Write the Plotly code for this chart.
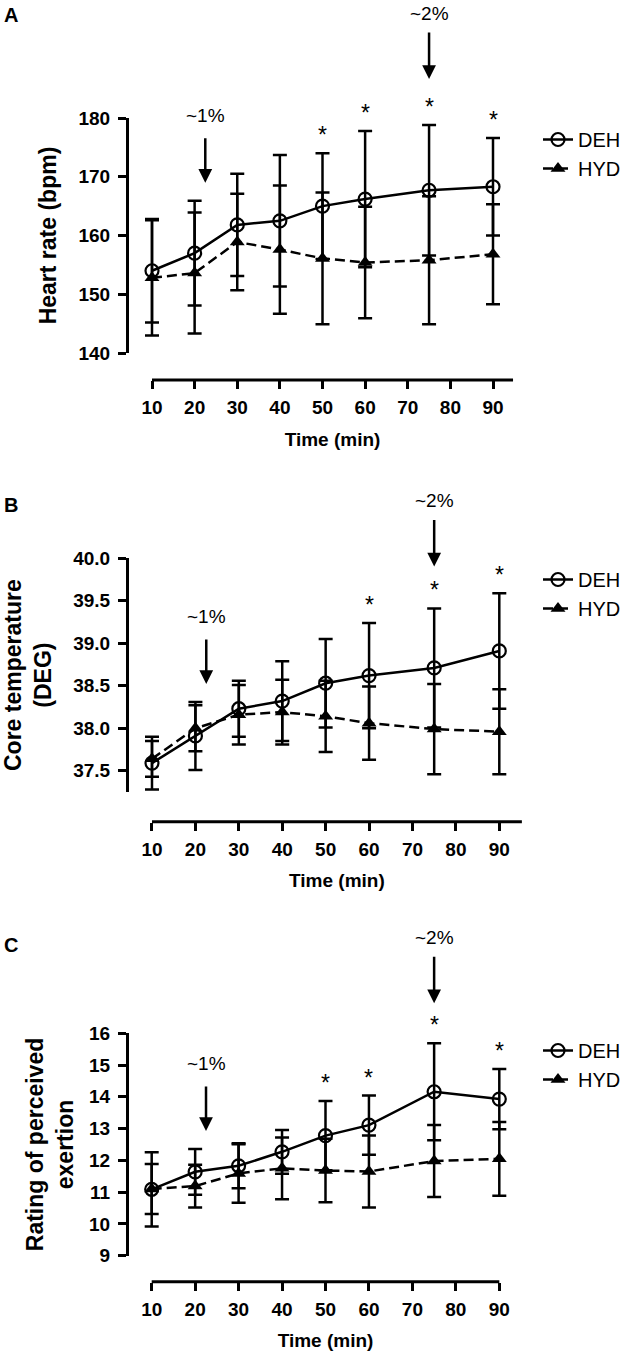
import plotly.graph_objects as go

W, H = 628, 1359

# ---------------- data ----------------
time = [10, 20, 30, 40, 50, 60, 75, 90]
x_ticks = [10, 20, 30, 40, 50, 60, 70, 80, 90]

# Panel A: heart rate (bpm)
hr_deh = [154.0, 157.0, 161.8, 162.5, 165.0, 166.2, 167.7, 168.3]
hr_deh_sd = [8.8, 8.9, 8.7, 11.2, 9.0, 11.6, 11.1, 8.3]
hr_hyd = [152.8, 153.6, 158.9, 157.6, 156.1, 155.4, 155.8, 156.8]
hr_hyd_sd = [9.8, 10.3, 8.2, 10.9, 11.2, 9.5, 10.9, 8.5]
hr_ticks = [140, 150, 160, 170, 180]
hr_stars = [50, 60, 75, 90]

# Panel B: core temperature
tc_deh = [37.59, 37.91, 38.23, 38.32, 38.53, 38.62, 38.71, 38.91]
tc_deh_sd = [0.31, 0.40, 0.33, 0.47, 0.52, 0.62, 0.70, 0.68]
tc_hyd = [37.64, 38.00, 38.16, 38.19, 38.14, 38.06, 37.99, 37.96]
tc_hyd_sd = [0.21, 0.27, 0.35, 0.38, 0.42, 0.43, 0.53, 0.50]
tc_ticks = [37.5, 38.0, 38.5, 39.0, 39.5, 40.0]
tc_stars = [60, 75, 90]

# Panel C: rating of perceived exertion
rpe_deh = [11.09, 11.64, 11.83, 12.27, 12.78, 13.11, 14.16, 13.93]
rpe_deh_sd = [1.17, 0.72, 0.71, 0.69, 1.09, 0.93, 1.53, 0.95]
rpe_hyd = [11.10, 11.19, 11.59, 11.75, 11.68, 11.65, 11.98, 12.05]
rpe_hyd_sd = [0.79, 0.67, 0.92, 0.97, 1.00, 1.13, 1.13, 1.16]
rpe_ticks = [9, 10, 11, 12, 13, 14, 15, 16]
rpe_stars = [50, 60, 75, 90]

marker_1pct_time = 22.5
marker_2pct_time = 75

FONT = "Liberation Sans, Arial, sans-serif"

panels = [
    dict(sfx="", label="A", ytitle="Heart rate (bpm)",
         deh=hr_deh, deh_sd=hr_deh_sd, hyd=hr_hyd, hyd_sd=hr_hyd_sd,
         yticks=hr_ticks, yrange=[140, 180], xline_range=[10, 94.7], tickformat="d",
         stars=hr_stars, x10=152, x90=493, ydom=(118, 353), xline=380,
         label_y=15, legend_top=120, title_standoff=14, arrow2_shift=46),
    dict(sfx="2", label="B", ytitle="Core temperature<br>(DEG)",
         deh=tc_deh, deh_sd=tc_deh_sd, hyd=tc_hyd, hyd_sd=tc_hyd_sd,
         yticks=tc_ticks, yrange=[37.25, 40.0], xline_range=[10, 95.2], tickformat=".1f",
         stars=tc_stars, x10=152, x90=499.3, ydom=(558.3, 792), xline=821.7,
         label_y=505, legend_top=560, title_standoff=18, arrow2_shift=42),
    dict(sfx="3", label="C", ytitle="Rating of perceived<br>exertion",
         deh=rpe_deh, deh_sd=rpe_deh_sd, hyd=rpe_hyd, hyd_sd=rpe_hyd_sd,
         yticks=rpe_ticks, yrange=[9, 16], xline_range=[10, 90], tickformat="d",
         stars=rpe_stars, x10=151.7, x90=499.3, ydom=(1033.3, 1255.7), xline=1281.7,
         label_y=945, legend_top=1031, title_standoff=8, arrow2_shift=40),
]

# x range padding (in minutes) so that error-bar caps at the ends are not clipped
XPAD = 2.5

fig = go.Figure()
layout = dict(width=W, height=H, autosize=False,
              margin=dict(l=0, r=0, t=0, b=0, autoexpand=False),
              paper_bgcolor="white", plot_bgcolor="rgba(0,0,0,0)",
              font=dict(family=FONT, color="black"),
              annotations=[], shapes=[], showlegend=True)


def px_x(p):
    return p / W


def px_y(p):
    return 1 - p / H


for i, p in enumerate(panels):
    xa = "x" + p["sfx"]
    ya = "y" + p["sfx"]
    leg = "legend" + p["sfx"]
    fig.add_trace(go.Scatter(
        x=time, y=p["hyd"], name="HYD", xaxis=xa, yaxis=ya, legend=leg,
        legendgroup="hyd" + p["sfx"], mode="lines+markers", cliponaxis=False,
        line=dict(color="black", width=2.5, dash="10px,5px"),
        marker=dict(symbol="triangle-up", size=13, color="black"),
        error_y=dict(type="data", array=p["hyd_sd"], visible=True,
                     color="black", thickness=2.5, width=7),
    ))
    fig.add_trace(go.Scatter(
        x=time, y=p["deh"], name="DEH", xaxis=xa, yaxis=ya, legend=leg,
        legendgroup="deh" + p["sfx"], mode="lines+markers", cliponaxis=False,
        line=dict(color="black", width=2.5),
        marker=dict(symbol="circle-open", size=13, color="black",
                    line=dict(width=2.2, color="black")),
        error_y=dict(type="data", array=p["deh_sd"], visible=True,
                     color="black", thickness=2.5, width=7),
    ))

    # pixel scale of the time axis
    sc = (p["x90"] - p["x10"]) / 80.0
    xr = [p["xline_range"][0] - XPAD, p["xline_range"][1] + XPAD]
    xd0 = p["x10"] + (xr[0] - 10) * sc
    xd1 = p["x10"] + (xr[1] - 10) * sc

    axis_common = dict(linecolor="black", linewidth=3,
                       ticks="outside", ticklen=8, tickwidth=3, tickcolor="black",
                       showgrid=False, zeroline=False, fixedrange=True,
                       automargin=False)
    layout["xaxis" + p["sfx"]] = dict(
        axis_common, showline=False,
        domain=[px_x(xd0), px_x(xd1)],
        anchor="free", position=px_y(p["xline"]),
        range=xr, tickvals=x_ticks,
        tickfont=dict(size=19, weight="bold", family=FONT),
        ticklabelstandoff=2,
        title=dict(text="Time (min)", font=dict(size=19, weight="bold", family=FONT),
                   standoff=15),
    )
    layout["yaxis" + p["sfx"]] = dict(
        axis_common, showline=True,
        domain=[px_y(p["ydom"][1]), px_y(p["ydom"][0])],
        anchor="free", position=px_x(127),
        range=p["yrange"], tickvals=p["yticks"], tickformat=p["tickformat"],
        tickfont=dict(size=19, weight="bold", family=FONT),
        ticklabelstandoff=4,
        title=dict(text=p["ytitle"], font=dict(size=23, weight="bold", family=FONT),
                   standoff=p["title_standoff"]),
    )
    # x axis baseline (spans the drawn time range only)
    layout["shapes"].append(dict(
        type="line", xref=xa, yref="paper",
        x0=p["xline_range"][0], x1=p["xline_range"][1],
        y0=px_y(p["xline"]), y1=px_y(p["xline"]),
        line=dict(color="black", width=3), layer="above"))

    layout[leg] = dict(
        x=px_x(538), y=px_y(p["legend_top"]), xanchor="left", yanchor="top",
        font=dict(size=20, family=FONT), bgcolor="rgba(0,0,0,0)",
        traceorder="reversed", tracegroupgap=6, itemwidth=30,
    )

    # panel label
    layout["annotations"].append(dict(
        text="<b>%s</b>" % p["label"], xref="paper", yref="paper",
        x=px_x(2), y=px_y(p["label_y"]), xanchor="left", yanchor="middle",
        showarrow=False, font=dict(size=20, family=FONT)))

    upper = [max(d + s, h + t) for d, s, h, t in zip(p["deh"], p["deh_sd"], p["hyd"], p["hyd_sd"])]
    deh_upper = [d + s for d, s in zip(p["deh"], p["deh_sd"])]

    # significance stars
    for t in p["stars"]:
        k = time.index(t)
        layout["annotations"].append(dict(
            text="*", xref=xa, yref=ya, x=t, y=deh_upper[k], yshift=18,
            xanchor="center", yanchor="middle", showarrow=False,
            font=dict(size=23, family=FONT)))

    # ~1% arrow (just after 20 min)
    y1 = upper[time.index(20)]
    layout["annotations"].append(dict(
        text="", xref=xa, yref=ya, x=marker_1pct_time, y=y1, yshift=18,
        showarrow=True, ax=0, ay=-46, arrowhead=2, arrowsize=1.1,
        arrowwidth=2.5, arrowcolor="black"))
    layout["annotations"].append(dict(
        text="~1%", xref=xa, yref=ya, x=marker_1pct_time, y=y1, yshift=18 + 67,
        xanchor="center", yanchor="middle", showarrow=False,
        font=dict(size=19, family=FONT)))

    # ~2% arrow at 75 min
    y2 = deh_upper[time.index(marker_2pct_time)]
    s2 = p["arrow2_shift"]
    layout["annotations"].append(dict(
        text="", xref=xa, yref=ya, x=marker_2pct_time, y=y2, yshift=s2,
        showarrow=True, ax=0, ay=-48, arrowhead=2, arrowsize=1.1,
        arrowwidth=2.5, arrowcolor="black"))
    layout["annotations"].append(dict(
        text="~2%", xref=xa, yref=ya, x=marker_2pct_time, y=y2, yshift=s2 + 66,
        xanchor="center", yanchor="middle", showarrow=False,
        font=dict(size=19, family=FONT)))

fig.update_layout(**layout)
fig.write_html("out.html",
               config={"displayModeBar": False},
               post_script="document.body.style.margin='0';document.body.style.overflow='hidden';")
